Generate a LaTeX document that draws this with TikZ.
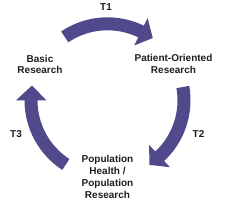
\documentclass[tikz,border=0pt]{standalone}
\usepackage{fontspec}
\setmainfont{Liberation Sans}
\usetikzlibrary{calc}
\definecolor{cycleblue}{RGB}{80,74,140}
\definecolor{labelgray}{RGB}{30,30,30}

% thick curved arrow around the hub: tail angle, head base angle, tip angle
\newcommand{\cyclearrow}[3]{%
  \fill[cycleblue] ($(hub)+(#1:83pt)$) arc[start angle=#1, end angle=#2, radius=83pt]
    -- ($(hub)+(#2:91.5pt)$) -- ($(hub)+(#3:77pt)$) -- ($(hub)+(#2:61pt)$)
    -- ($(hub)+(#2:70pt)$) arc[start angle=#2, end angle=#1, radius=70pt] -- cycle;}

\begin{document}
\begin{tikzpicture}[
    x=1pt, y=1pt,
    stage/.style={font=\fontsize{10}{11.8}\selectfont\bfseries, align=center,
                  inner sep=0pt, text=labelgray},
    phase/.style={font=\fontsize{10}{12}\selectfont\bfseries, inner sep=0pt, text=labelgray},
]
    \useasboundingbox (0,0) rectangle (230,204);
    \coordinate (hub) at (107.5,103.7);

    % Arrows
    \cyclearrow{124}{64}{54}
    \cyclearrow{10}{-47}{-57}
    \cyclearrow{237}{180}{169}

    % Stages
    \node[stage] (basic) at (40,139.5) {Basic\\Research};
    \node[stage] (patient) at (173.5,140) {Patient-Oriented\\Research};
    \node[stage] (population) at (107.5,27) {Population\\Health /\\Population\\Research};

    % Phases
    \node[phase] (t1) at (106,197) {T1};
    \node[phase] (t2) at (198.5,69.5) {T2};
    \node[phase] (t3) at (16,69.5) {T3};
\end{tikzpicture}
\end{document}
